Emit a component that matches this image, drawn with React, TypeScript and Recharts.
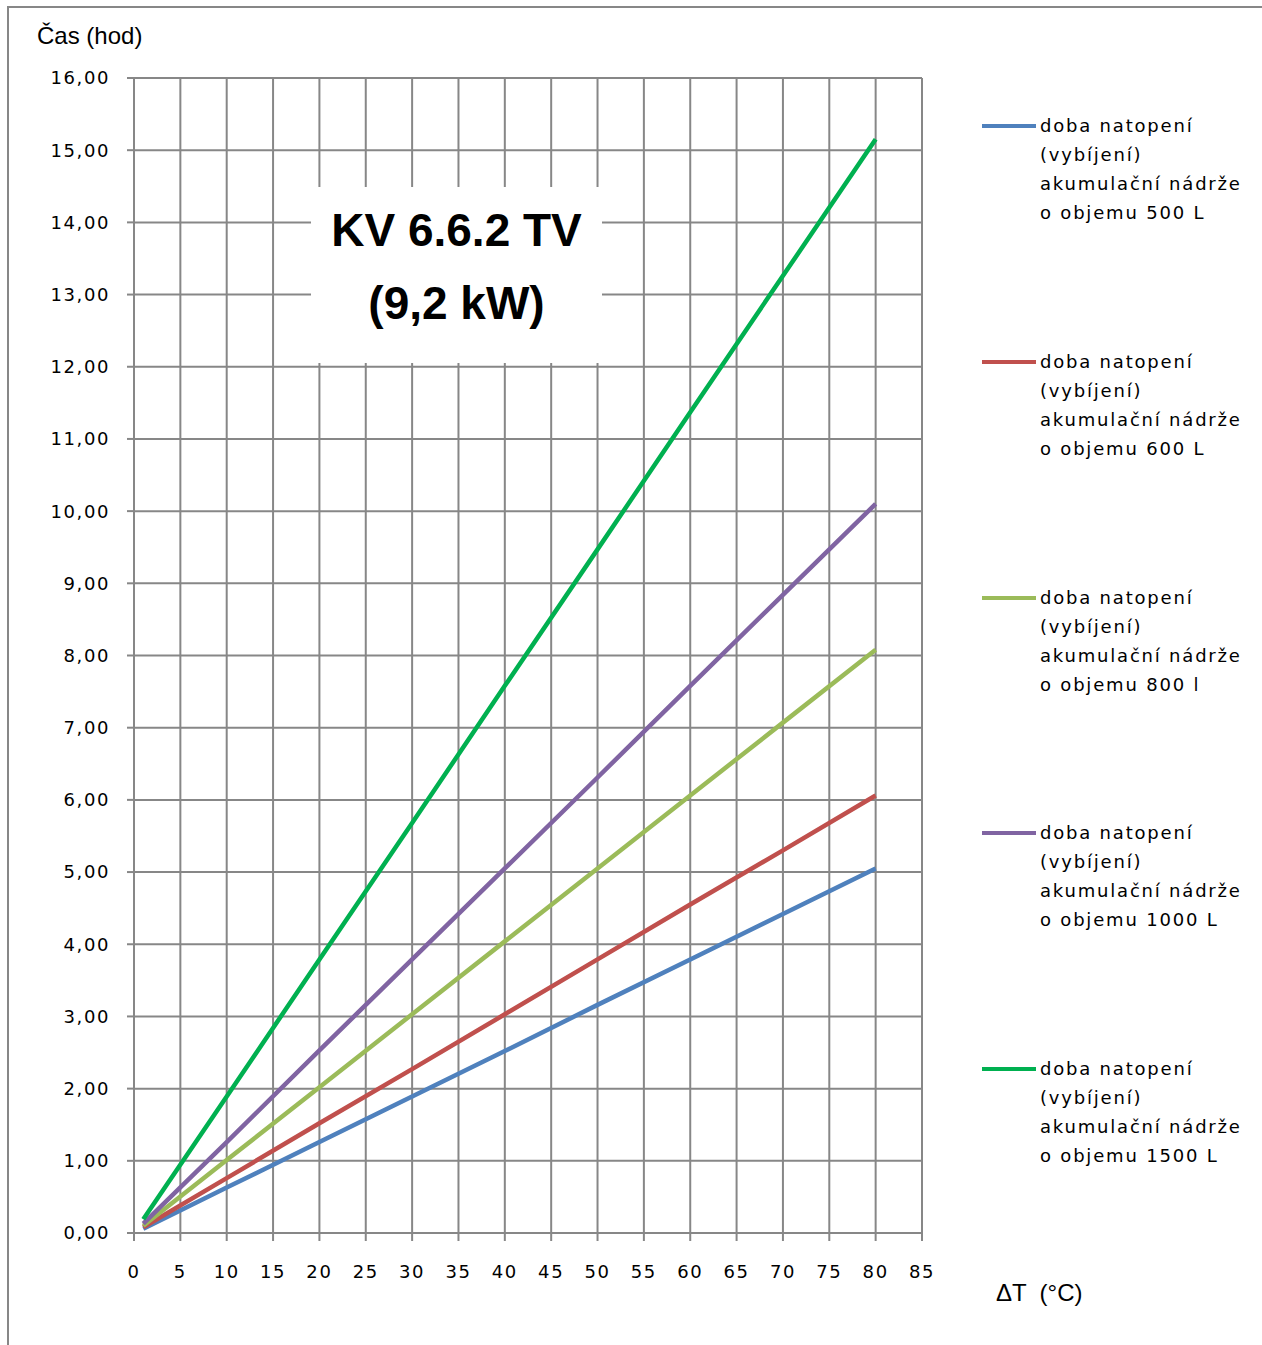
import React from "react";
import { LineChart, Line, XAxis, YAxis, CartesianGrid } from "recharts";

// ΔT values (°C) at which times were read
const deltaT = [1, 10, 20, 30, 40, 50, 60, 70, 80];

// heating / discharge time (hours) per tank volume
const time500 = [0.06, 0.63, 1.26, 1.89, 2.52, 3.16, 3.79, 4.42, 5.05];
const time600 = [0.08, 0.76, 1.52, 2.27, 3.03, 3.79, 4.55, 5.3, 6.06];
const time800 = [0.1, 1.01, 2.02, 3.03, 4.04, 5.05, 6.06, 7.07, 8.08];
const time1000 = [0.13, 1.26, 2.53, 3.79, 5.05, 6.31, 7.58, 8.84, 10.1];
const time1500 = [0.19, 1.89, 3.79, 5.68, 7.58, 9.47, 11.37, 13.26, 15.15];

const xTicks = [0, 5, 10, 15, 20, 25, 30, 35, 40, 45, 50, 55, 60, 65, 70, 75, 80, 85];
const yTicks = [0, 1, 2, 3, 4, 5, 6, 7, 8, 9, 10, 11, 12, 13, 14, 15, 16];

const series = [
  { key: "v500", volume: "500 L", color: "#4F81BD", values: time500 },
  { key: "v600", volume: "600 L", color: "#C0504D", values: time600 },
  { key: "v800", volume: "800 l", color: "#9BBB59", values: time800 },
  { key: "v1000", volume: "1000 L", color: "#8064A2", values: time1000 },
  { key: "v1500", volume: "1500 L", color: "#00B050", values: time1500 },
];

const data = deltaT.map((t, i) => {
  const row: Record<string, number> = { dt: t };
  series.forEach((s) => {
    row[s.key] = s.values[i];
  });
  return row;
});

const GRID = "#878787";
const tickFont = { fontFamily: "DejaVu Sans", fontSize: 18, fill: "#000", letterSpacing: 1.6 };

const fmt = (v: number) => v.toFixed(2).replace(".", ",");

export default function App() {
  return (
    <div style={{ position: "absolute", left: 0, top: 0, width: 1262, height: 1345, background: "#fff" }}>
      {/* outer frame */}
      <div style={{ position: "absolute", left: 8, top: 6, width: 1254, height: 2, background: GRID }} />
      <div style={{ position: "absolute", left: 7, top: 6, width: 2, height: 1339, background: GRID }} />

      <LineChart
        width={1262}
        height={1345}
        data={data}
        margin={{ top: 78, left: 14, right: 340, bottom: 62 }}
      >
        <CartesianGrid stroke={GRID} strokeWidth={2} />
        <XAxis
          dataKey="dt"
          type="number"
          domain={[0, 85]}
          ticks={xTicks}
          height={50}
          stroke={GRID}
          strokeWidth={2}
          tickSize={8}
          tickMargin={24}
          tick={tickFont}
          interval={0}
        />
        <YAxis
          type="number"
          domain={[0, 16]}
          ticks={yTicks}
          width={120}
          stroke={GRID}
          strokeWidth={2}
          tickSize={7}
          tickMargin={17}
          tick={tickFont}
          tickFormatter={fmt}
          interval={0}
        />
        {series.map((s) => (
          <Line
            key={s.key}
            dataKey={s.key}
            stroke={s.color}
            strokeWidth={4.5}
            dot={false}
            isAnimationActive={false}
          />
        ))}
      </LineChart>

      {/* axis titles */}
      <div
        style={{
          position: "absolute",
          left: 37,
          top: 20,
          fontFamily: "Liberation Sans",
          fontSize: 24,
          lineHeight: "32px",
        }}
      >
        Čas (hod)
      </div>
      <div
        style={{
          position: "absolute",
          left: 996,
          top: 1277,
          fontFamily: "Liberation Sans",
          fontSize: 24,
          lineHeight: "32px",
          whiteSpace: "pre",
        }}
      >
        ΔT  (°C)
      </div>

      {/* title box over the grid */}
      <div
        style={{
          position: "absolute",
          left: 311,
          top: 187,
          width: 291,
          height: 176,
          boxSizing: "border-box",
          paddingBottom: 16,
          background: "#fff",
          display: "flex",
          flexDirection: "column",
          alignItems: "center",
          justifyContent: "center",
          fontFamily: "Liberation Sans",
          fontWeight: "bold",
          fontSize: 46,
          lineHeight: "73px",
        }}
      >
        <div>KV 6.6.2 TV</div>
        <div>(9,2 kW)</div>
      </div>

      {/* legend */}
      {series.map((s, i) => (
        <div key={s.key} style={{ position: "absolute", left: 982, top: 111 + i * 235.75 }}>
          <div
            style={{
              position: "absolute",
              left: 0,
              top: 13,
              width: 54,
              height: 4,
              background: s.color,
            }}
          />
          <div
            style={{
              position: "absolute",
              left: 58,
              top: 0,
              fontFamily: "DejaVu Sans",
              fontSize: 18,
              lineHeight: "29px",
              letterSpacing: 1.8,
              whiteSpace: "nowrap",
            }}
          >
            <div>doba natopení</div>
            <div>(vybíjení)</div>
            <div>akumulační nádrže</div>
            <div>o objemu {s.volume}</div>
          </div>
        </div>
      ))}
    </div>
  );
}
